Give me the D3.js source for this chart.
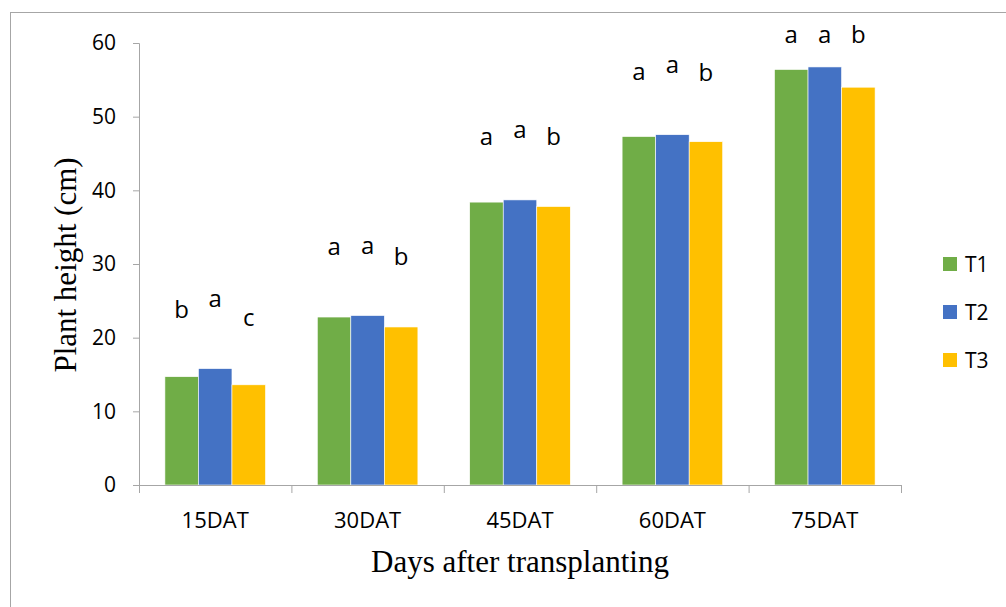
<!DOCTYPE html>
<html>
<head>
<meta charset="utf-8">
<script src="https://cdn.jsdelivr.net/npm/d3@7"></script>
<style>
  body { margin: 0; background: #fff; }
  svg { display: block; }
</style>
</head>
<body>
<div id="chart"></div>
<script>
const days = ["15DAT", "30DAT", "45DAT", "60DAT", "75DAT"]
const treatments = ["T1", "T2", "T3"]
const t1 = [14.7, 22.8, 38.4, 47.3, 56.4]
const t2 = [15.8, 23.0, 38.7, 47.55, 56.75]
const t3 = [13.6, 21.45, 37.8, 46.6, 54.0]
// significance letters and the height (cm) they sit at
const letters1 = ["b", "a", "a", "a", "a"]
const letters2 = ["a", "a", "a", "a", "a"]
const letters3 = ["c", "b", "b", "b", "b"]
const letterAt1 = [22.7, 31.2, 46.15, 54.95, 60.0]
const letterAt2 = [24.15, 31.35, 47.05, 55.95, 60.0]
const letterAt3 = [21.6, 29.85, 46.15, 54.85, 60.0]
const yTicks = [0, 10, 20, 30, 40, 50, 60]
const colors = ["#70AD47", "#4472C4", "#FFC000"]

const width = 1006, height = 607
const margin = { left: 139, right: 105, top: 43, bottom: 122 }
const sans = "'Open Sans', 'Noto Sans', sans-serif"
const serif = "'Liberation Serif', 'Times New Roman', serif"

const series = [t1, t2, t3]
const letterSets = [letters1, letters2, letters3]
const letterHeights = [letterAt1, letterAt2, letterAt3]

const svg = d3.select("#chart").append("svg")
    .attr("width", width)
    .attr("height", height)

// chart frame (right and bottom edges fall outside the picture)
svg.append("rect")
    .attr("x", 10.5).attr("y", 12.5)
    .attr("width", 1010).attr("height", 610)
    .style("fill", "none")
    .style("stroke", "#a6a6a6")
    .style("stroke-width", 1)

const x = d3.scaleBand()
    .domain(days)
    .range([margin.left, width - margin.right])
    .paddingInner(0.34)
    .paddingOuter(0.17)

const xs = d3.scaleBand()
    .domain(treatments)
    .range([0, x.bandwidth()])

const y = d3.scaleLinear()
    .domain([0, 60])
    .range([height - margin.bottom, margin.top])

// y axis
const yAxis = svg.append("g")
    .attr("transform", `translate(${margin.left},0)`)
    .call(d3.axisLeft(y).tickValues(yTicks).tickSize(6).tickPadding(17))
yAxis.select(".domain").style("stroke", "#a6a6a6")
yAxis.selectAll(".tick line").style("stroke", "#a6a6a6")
yAxis.selectAll(".tick text")
    .style("font-family", sans)
    .style("font-size", "21px")
    .style("fill", "#000")

// bars
days.forEach((d, i) => {
    const g = svg.append("g").attr("transform", `translate(${x(d)},0)`)
    g.selectAll("rect")
        .data(treatments)
        .join("rect")
        .attr("x", t => xs(t))
        .attr("y", (t, j) => y(series[j][i]))
        .attr("width", xs.bandwidth())
        .attr("height", (t, j) => y(0) - y(series[j][i]))
        .style("fill", (t, j) => colors[j])
        .style("stroke", "#fff")
        .style("stroke-width", 0.6)

    g.selectAll("text")
        .data(treatments)
        .join("text")
        .attr("x", t => xs(t) + xs.bandwidth() / 2)
        .attr("y", (t, j) => y(letterHeights[j][i]))
        .attr("text-anchor", "middle")
        .style("font-family", sans)
        .style("font-size", "24px")
        .text((t, j) => letterSets[j][i])
})

// x axis: line with category separators hanging below
const x0 = margin.left, x1 = x.range()[1]
const step = x.step()
const xAxis = svg.append("g")
xAxis.append("line")
    .attr("x1", x0).attr("x2", x1)
    .attr("y1", y(0) + 0.5).attr("y2", y(0) + 0.5)
    .style("stroke", "#a6a6a6")
xAxis.selectAll(".sep")
    .data(d3.range(days.length + 1))
    .join("line")
    .attr("class", "sep")
    .attr("x1", k => x0 + k * step + 0.5)
    .attr("x2", k => x0 + k * step + 0.5)
    .attr("y1", y(0))
    .attr("y2", y(0) + 8)
    .style("stroke", "#a6a6a6")
xAxis.selectAll(".cat")
    .data(days)
    .join("text")
    .attr("class", "cat")
    .attr("x", d => x(d) + x.bandwidth() / 2)
    .attr("y", y(0) + 43)
    .attr("text-anchor", "middle")
    .style("font-family", sans)
    .style("font-size", "22px")
    .text(d => d)

// axis titles
svg.append("text")
    .attr("x", 520)
    .attr("y", 572)
    .attr("text-anchor", "middle")
    .style("font-family", serif)
    .style("font-size", "31px")
    .text("Days after transplanting")

svg.append("text")
    .attr("transform", "translate(76,265) rotate(-90)")
    .attr("text-anchor", "middle")
    .style("font-family", serif)
    .style("font-size", "31px")
    .text("Plant height (cm)")

// legend
const legend = svg.append("g")
    .selectAll("g")
    .data(treatments)
    .join("g")
    .attr("transform", (t, j) => `translate(943,${257 + j * 48})`)
legend.append("rect")
    .attr("width", 14).attr("height", 14)
    .style("fill", (t, j) => colors[j])
legend.append("text")
    .attr("x", 22)
    .attr("y", 15)
    .style("font-family", sans)
    .style("font-size", "21px")
    .text(t => t)
</script>
</body>
</html>
